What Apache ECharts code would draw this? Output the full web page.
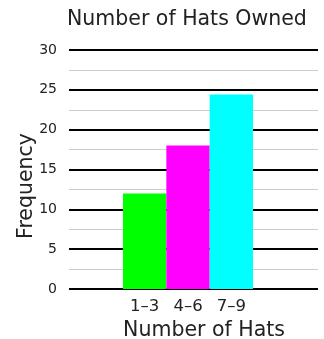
<!DOCTYPE html>
<html>
<head>
<meta charset="utf-8">
<script src="https://cdn.jsdelivr.net/npm/echarts@6/dist/echarts.min.js"></script>
<style>
  html, body { margin: 0; padding: 0; background: #fff; }
  #main { width: 324px; height: 339px; }
</style>
</head>
<body>
<div id="main"></div>
<script>
var categories = ['1–3', '4–6', '7–9'];
var frequencies = [12, 18, 24.4];
var barColors = ['#00ff00', '#ff00ff', '#00ffff'];

var font = 'DejaVu Sans';
var myChart = echarts.init(document.getElementById('main'));

option = {
    animation: false,
    title: {
        text: 'Number of Hats Owned',
        left: 62,
        top: 4,
        textStyle: { fontFamily: font, fontSize: 20.5, fontWeight: 'normal', color: '#222' }
    },
    graphic: [
        {
            type: 'text',
            left: 16,
            top: 133,
            rotation: Math.PI / 2,
            style: { text: 'Frequency', font: '20.5px "DejaVu Sans"', fill: '#222' }
        }
    ],
    grid: [
        { left: 69, right: 6, top: 50, bottom: 50, outerBoundsMode: 'none' },
        { left: 123, width: 130, top: 50, bottom: 50, outerBoundsMode: 'none' }
    ],
    xAxis: [
        {
            gridIndex: 0,
            type: 'category',
            data: [''],
            show: false
        },
        {
            gridIndex: 1,
            type: 'category',
            data: categories,
            axisLine: { show: false },
            axisTick: { show: false },
            axisLabel: { fontFamily: font, fontSize: 16.5, color: '#222', margin: 9 },
            name: 'Number of Hats',
            nameLocation: 'middle',
            nameGap: 28,
            nameTextStyle: { fontFamily: font, fontSize: 20.5, color: '#222', padding: [0, 0, 0, 32] }
        }
    ],
    yAxis: [
        {
            gridIndex: 0,
            type: 'value',
            min: 0,
            max: 30,
            interval: 5,
            axisLine: { show: false },
            axisTick: { show: false },
            axisLabel: { fontFamily: font, fontSize: 14, color: '#222', margin: 12 },
            splitLine: { lineStyle: { color: '#000', width: 2 } },
            minorTick: { show: false, splitNumber: 2 },
            minorSplitLine: { show: true, lineStyle: { color: '#cccccc', width: 1 } }
        },
        {
            gridIndex: 1,
            type: 'value',
            min: 0,
            max: 30,
            show: false
        }
    ],
    series: [
        {
            name: 'Frequency',
            type: 'bar',
            xAxisIndex: 1,
            yAxisIndex: 1,
            barWidth: '100%',
            data: frequencies.map(function (v, i) {
                return { value: v, itemStyle: { color: barColors[i] } };
            })
        }
    ]
};
myChart.setOption(option);
</script>
</body>
</html>
